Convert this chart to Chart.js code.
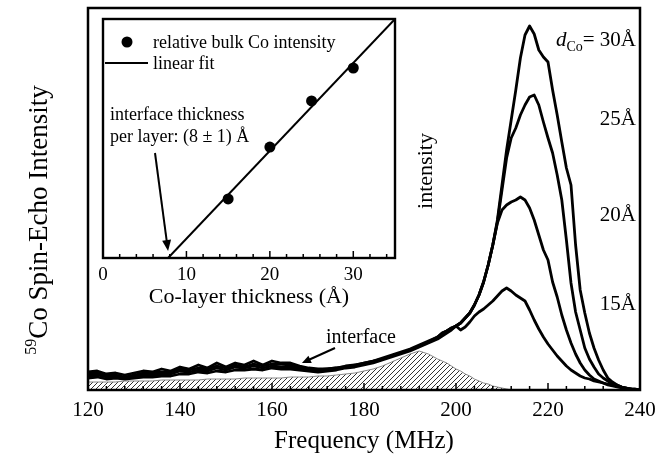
<!DOCTYPE html>
<html>
<head>
<meta charset="utf-8">
<script src="https://cdn.jsdelivr.net/npm/chart.js@4.4.0/dist/chart.umd.min.js"></script>
<style>
body{margin:0;background:#fff}
#wrap{position:relative;width:670px;height:466px}
canvas{position:absolute;left:0;top:0}
</style>
</head>
<body>
<div id="wrap">
<canvas id="mainChart" width="670" height="466"></canvas>
<canvas id="insetChart" width="670" height="466"></canvas>
</div>
<script>
// frequency grid (MHz): 2 MHz steps in the flat part, 1 MHz around the peaks
const freq=[120,122,124,126,128,130,132,134,136,138,140,142,144,146,148,150,152,154,156,158,
 160,162,164,166,168,170,172,174,176,178,180,182,184,186,188,190,192,194,196,
 197,198,199,200,201,202,203,204,205,206,207,208,209,210,211,212,213,214,215,216,217,218,219,220,
 221,222,223,224,225,226,227,228,229,230,231,232,233,234,235,236,237,238,239,240];

const d30=[18,19,16,17,15,17,19,18,21,19,23,21,25,22,27,23,27,25,29,25,29,27,27,24,22,21,21,22,24,25,27,29,32,35,38,41,45,49,53,
 57,59,62,64,67,72,77,85,95,108,125,145,170,205,240,270,300,332,355,364,356,340,333,328,
 300,275,248,222,205,145,100,77,57,42,30,20,12,8,5,3,2,1,0,0];
const d25=[16,17,14,15,13,15,17,17,18,18,21,20,22,21,24,22,25,23,26,24,26,26,25,23,21,20,21,22,23,25,27,29,31,34,37,40,44,48,53,
 57,59,62,64,67,72,77,85,95,108,125,145,168,200,232,252,262,275,285,293,295,285,268,252,
 237,215,190,150,107,78,60,42,31,23,16,12,9,6,4,3,2,1,0,0];
const d20=[14,15,13,14,12,14,15,15,16,16,19,18,20,19,22,20,23,22,24,22,24,23,23,22,20,19,20,21,23,24,26,28,31,34,37,40,44,48,52,
 56,59,61,64,67,72,77,85,95,108,125,145,167,180,185,188,190,193,190,182,170,155,140,130,
 108,93,75,60,47,36,27,20,15,11,9,7,5,4,3,2,1,1,0,0];
const d15=[12,13,11,12,11,12,13,13,14,14,16,16,18,17,19,18,20,20,21,20,22,21,21,20,19,18,19,20,22,23,25,27,30,33,36,39,43,47,51,
 54,57,60,64,60,63,68,74,78,81,85,89,94,99,102,99,95,92,89,80,70,61,53,46,
 40,34,29,24,20,17,14,12,11,9,8,7,6,5,5,3,2,1,1,0];
const iface=[8,8,8,8,9,9,9,9,10,10,10,10,10,11,11,11,11,12,12,12,12,12,13,13,13,14,14,15,16,17,19,21,24,28,32,36,39,36,31,
 29,27,24,21,19,16,14,11,9,7,6,4,3,2,1,0,0,0,0,0,0,0,0,0,
 0,0,0,0,0,0,0,0,0,0,0,0,0,0,0,0,0,0,0,0];
const freqLabels=[120,140,160,180,200,220,240];
const curveLabels=['30Å','25Å','20Å','15Å'];

// inset: relative bulk Co intensity vs Co-layer thickness
const thick=[15,20,25,30];
const relInt=[0.247,0.464,0.657,0.795];
const fitX=[7.8,35];
const fitY=[0,1.0];

const serif="'Liberation Serif','Times New Roman',serif";
const toXY=(xs,ys)=>xs.map((v,i)=>({x:v,y:ys[i]}));

const mainCtx=document.getElementById('mainChart').getContext('2d');
const pc=document.createElement('canvas'); pc.width=5; pc.height=5;
const pg=pc.getContext('2d');
pg.strokeStyle='#333'; pg.lineWidth=1;
pg.beginPath(); pg.moveTo(0,5); pg.lineTo(5,0); pg.moveTo(-1,1); pg.lineTo(1,-1); pg.moveTo(4,6); pg.lineTo(6,4); pg.stroke();
const hatch=mainCtx.createPattern(pc,'repeat');

function arrow(ctx,x1,y1,x2,y2,head,w){
  const a=Math.atan2(y2-y1,x2-x1);
  ctx.beginPath(); ctx.moveTo(x1,y1);
  ctx.lineTo(x2-head*0.8*Math.cos(a),y2-head*0.8*Math.sin(a)); ctx.stroke();
  ctx.beginPath(); ctx.moveTo(x2,y2);
  ctx.lineTo(x2-head*Math.cos(a)+w*Math.sin(a),y2-head*Math.sin(a)-w*Math.cos(a));
  ctx.lineTo(x2-head*Math.cos(a)-w*Math.sin(a),y2-head*Math.sin(a)+w*Math.cos(a));
  ctx.closePath(); ctx.fill();
}

const mainDecor={
  id:'mainDecor',
  afterDraw(chart){
    const {ctx,chartArea:a,scales:{x}}=chart;
    ctx.save();
    ctx.strokeStyle='#000'; ctx.fillStyle='#000';
    ctx.lineWidth=1.5;
    for(let v=124;v<240;v+=4){
      const px=x.getPixelForValue(v), len=(v%20===0)?7:4;
      ctx.beginPath(); ctx.moveTo(px,a.bottom); ctx.lineTo(px,a.bottom-len); ctx.stroke();
    }
    ctx.lineWidth=2.5;
    ctx.strokeRect(a.left,a.top,a.right-a.left,a.bottom-a.top);

    // y title with superscript
    ctx.save();
    ctx.translate(47,220); ctx.rotate(-Math.PI/2);
    ctx.font='16px '+serif; const w1=ctx.measureText('59').width;
    ctx.font='27px '+serif; const w2=ctx.measureText('Co Spin-Echo Intensity').width;
    const sx=-(w1+w2)/2;
    ctx.font='16px '+serif; ctx.fillText('59',sx,-11);
    ctx.font='27px '+serif; ctx.fillText('Co Spin-Echo Intensity',sx+w1,0);
    ctx.restore();

    // thickness labels
    const rx=636;
    ctx.textAlign='right';
    ctx.font='21px '+serif;
    const t30='= '+curveLabels[0];
    ctx.fillText(t30,rx,46);
    let w=ctx.measureText(t30).width;
    ctx.font='14px '+serif; ctx.fillText('Co',rx-w,51);
    w+=ctx.measureText('Co').width;
    ctx.font='italic 21px '+serif; ctx.fillText('d',rx-w,46);
    ctx.font='21px '+serif;
    ctx.fillText(curveLabels[1],rx,125);
    ctx.fillText(curveLabels[2],rx,221);
    ctx.fillText(curveLabels[3],rx,310);

    ctx.save();
    ctx.translate(426,171); ctx.rotate(-Math.PI/2);
    ctx.textAlign='center'; ctx.textBaseline='middle';
    ctx.font='22px '+serif; ctx.fillText('intensity',0,0);
    ctx.restore();

    ctx.textAlign='center';
    ctx.font='20px '+serif; ctx.fillText('interface',361,343);
    ctx.lineWidth=2;
    arrow(ctx,335,348,x.getPixelForValue(166.5),363,9,4);
    ctx.restore();
  }
};

const curve=(d)=>({data:toXY(freq,d),borderColor:'#000',borderWidth:2.8,pointRadius:0,tension:0,fill:false,borderJoinStyle:'round'});

new Chart(mainCtx,{
  type:'line',
  data:{datasets:[
    curve(d30),curve(d25),curve(d20),curve(d15),
    {data:toXY(freq,iface),borderColor:'#888',borderWidth:1,pointRadius:0,tension:0,fill:'origin',backgroundColor:hatch}
  ]},
  options:{
    responsive:false,animation:false,devicePixelRatio:1,
    layout:{padding:{left:88,right:30,top:8,bottom:10}},
    plugins:{legend:{display:false},tooltip:{enabled:false}},
    scales:{
      x:{type:'linear',min:120,max:240,
        afterBuildTicks:s=>{s.ticks=freqLabels.map(v=>({value:v}))},
        ticks:{font:{family:serif,size:21},color:'#000',padding:8},
        grid:{display:false,drawTicks:false},border:{display:false},
        title:{display:true,text:'Frequency (MHz)',font:{family:serif,size:25},color:'#000',padding:0},
        afterFit:s=>{s.height=66}},
      y:{display:false,min:0,max:382}
    }
  },
  plugins:[mainDecor]
});

const insetDecor={
  id:'insetDecor',
  afterDraw(chart){
    const {ctx,chartArea:a,scales:{x,y}}=chart;
    ctx.save();
    ctx.strokeStyle='#000'; ctx.fillStyle='#000';
    ctx.lineWidth=1.5;
    for(let v=2;v<35;v+=2){
      const px=x.getPixelForValue(v), len=(v%10===0)?7:4;
      ctx.beginPath(); ctx.moveTo(px,a.bottom); ctx.lineTo(px,a.bottom-len); ctx.stroke();
    }
    ctx.lineWidth=2.4;
    ctx.strokeRect(a.left,a.top,a.right-a.left,a.bottom-a.top);

    // legend
    ctx.beginPath(); ctx.arc(127,42,5.5,0,Math.PI*2); ctx.fill();
    ctx.lineWidth=2;
    ctx.beginPath(); ctx.moveTo(105,63); ctx.lineTo(148,63); ctx.stroke();
    ctx.font='18px '+serif;
    ctx.fillText('relative bulk Co intensity',153,48);
    ctx.fillText('linear fit',153,69);

    ctx.fillText('interface thickness',110,120);
    ctx.fillText('per layer: (8 ± 1) Å',110,142);
    arrow(ctx,155,153,x.getPixelForValue(fitX[0]),y.getPixelForValue(0)-7,11,4.5);
    ctx.restore();
  }
};

new Chart(document.getElementById('insetChart'),{
  type:'scatter',
  data:{datasets:[
    {data:toXY(thick,relInt),pointRadius:5.5,pointBackgroundColor:'#000',pointBorderWidth:0,showLine:false},
    {data:toXY(fitX,fitY),borderColor:'#000',borderWidth:2,pointRadius:0,showLine:true}
  ]},
  options:{
    responsive:false,animation:false,devicePixelRatio:1,
    layout:{padding:{left:103,right:275,top:19,bottom:156}},
    plugins:{legend:{display:false},tooltip:{enabled:false}},
    scales:{
      x:{type:'linear',min:0,max:35,
        afterBuildTicks:s=>{s.ticks=[0,10,20,30].map(v=>({value:v}))},
        ticks:{font:{family:serif,size:19},color:'#000',padding:6},
        grid:{display:false,drawTicks:false},border:{display:false},
        title:{display:true,text:'Co-layer thickness (Å)',font:{family:serif,size:22},color:'#000',padding:0},
        afterFit:s=>{s.height=52}},
      y:{display:false,min:0,max:1}
    }
  },
  plugins:[insetDecor]
});
</script>
</body>
</html>
